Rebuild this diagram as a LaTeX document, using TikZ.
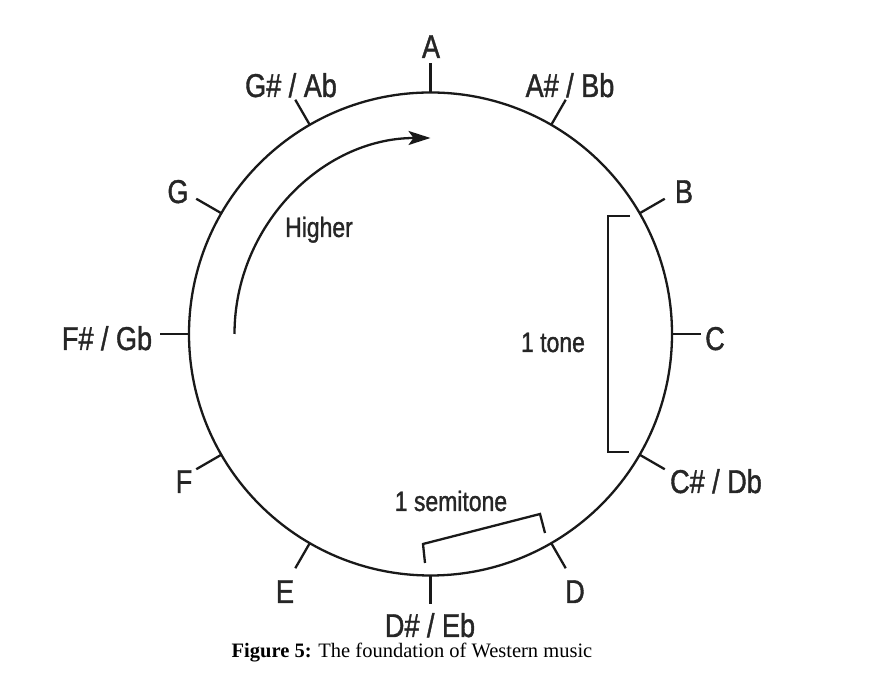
\documentclass[tikz,border=0pt]{standalone}
\usepackage{fontspec}
\setmainfont{Liberation Serif}
\newfontfamily\labfont[FakeStretch=0.82,FakeBold=1.2]{Liberation Sans}
\usetikzlibrary{arrows.meta}
\begin{document}
\begin{tikzpicture}[x=1pt,y=1pt,
  ln/.style={line width=2.3pt,black!90},
  note/.style={font=\labfont\fontsize{33}{36}\selectfont,anchor=base,inner sep=0pt,text=black!85},
  small/.style={font=\labfont\fontsize{28}{30}\selectfont,anchor=base,inner sep=0pt,text=black!85},
  tick/.style={ln}]
\useasboundingbox (0,0) rectangle (880,676);
\node[draw,ln,circle,minimum size=483pt,inner sep=0pt,outer sep=0pt] (ring) at (430.5,342) {};
% ticks
\foreach \a/\n in {90/A,60/As,30/B,0/C,-30/Cs,-60/D,-90/Ds,-120/E,-150/F,180/Fs,150/G,120/Gs}{
  \coordinate (t\n) at ([shift={(\a:29pt)}]ring.\a);
  \draw[tick] (ring.\a) -- (t\n);
}
% labels
\node[note] (lA)  at (431,618) {A};
\node[note] (lAs) at (570,579) {A\# / Bb};
\node[note] (lB)  at (684,473) {B};
\node[note] (lC)  at (715,326) {C};
\node[note] (lCs) at (716,183) {C\# / Db};
\node[note] (lD)  at (575,73)  {D};
\node[note] (lDs) at (430,39)  {D\# / Eb};
\node[note] (lE)  at (285,73)  {E};
\node[note] (lF)  at (184,183) {F};
\node[note] (lFs) at (107,326) {F\# / Gb};
\node[note] (lG)  at (178,473) {G};
\node[note] (lGs) at (291,579) {G\# / Ab};
% arrow
\coordinate (hs) at ([shift={(180:196pt)}]ring.center);
\draw[ln,-{Stealth[length=22pt,width=14pt,inset=5pt]}] (hs) arc[start angle=180,end angle=90,radius=196pt];
\node[small] (higher) at (319,439) {Higher};
% tone bracket
\coordinate (tb1) at (630,460);
\coordinate (tb2) at (608,460);
\coordinate (tb3) at (608,224);
\coordinate (tb4) at (629,224);
\draw[ln] (tb1) -- (tb2) -- (tb3) -- (tb4);
\node[small] (tone) at (553,324) {1 tone};
% semitone bracket
\coordinate (sb1) at (425,113);
\coordinate (sb2) at (423,132);
\coordinate (sb3) at (540,162);
\coordinate (sb4) at (545,143);
\draw[ln] (sb1) -- (sb2) -- (sb3) -- (sb4);
\node[small] (semi) at (451,165) {1 semitone};
% caption
\node[anchor=base,inner sep=0pt,font=\fontsize{20.5}{24}\selectfont] (cap) at (412,18) {\textbf{Figure 5:} The foundation of Western music};
\end{tikzpicture}
\end{document}
